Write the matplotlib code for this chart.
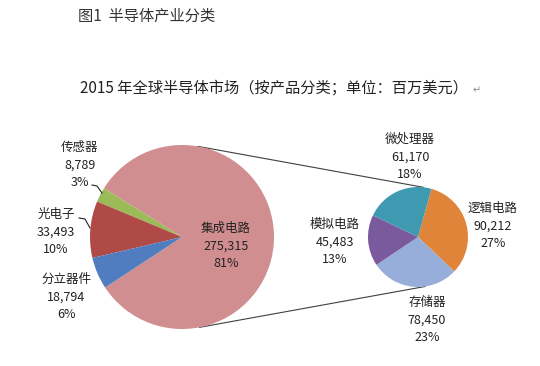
import numpy as np
import matplotlib.pyplot as plt

plt.rcParams['font.family'] = ['Noto Sans CJK SC', 'DejaVu Sans']

# 2015 global semiconductor market, million USD
main_labels = ['集成电路', '传感器', '光电子', '分立器件']
main_values = [275315, 8789, 33493, 18794]
main_pct = ['81%', '3%', '10%', '6%']
main_colors = ['#D08E90', '#9BBB59', '#B04A47', '#4F7DBF']

ic_labels = ['逻辑电路', '存储器', '模拟电路', '微处理器']
ic_values = [90212, 78450, 45483, 61170]
ic_pct = ['27%', '23%', '13%', '18%']
ic_colors = ['#E0843A', '#98AEDA', '#7A5A9C', '#3F99B0']

W, H = 540, 366
fig = plt.figure(figsize=(W / 100, H / 100), dpi=100)
ax = fig.add_axes([0, 0, 1, 1])

# pixel coords, y flipped to go up
c1, r1 = (182, H - 237), 92
c2, r2 = (418, H - 237), 50

start1 = 213.3
ax.pie(main_values, colors=main_colors, startangle=start1, counterclock=True,
       center=c1, radius=r1, wedgeprops=dict(linewidth=0))
ax.pie(ic_values, colors=ic_colors, startangle=74.4, counterclock=False,
       center=c2, radius=r2, wedgeprops=dict(linewidth=0))

# connector lines from the IC slice to the breakdown pie
def on_circle(c, r, deg):
    a = np.deg2rad(deg)
    return c[0] + r * np.cos(a), c[1] + r * np.sin(a)

for a1, a2 in [(80, 84), (-79, -82)]:
    p1 = on_circle(c1, r1, a1)
    p2 = on_circle(c2, r2, a2)
    ax.plot([p1[0], p2[0]], [p1[1], p2[1]], color='#404040', lw=0.8, zorder=0)

ax.set_xlim(0, W)
ax.set_ylim(0, H)
ax.set_aspect('auto')
ax.axis('off')

def fmt(v):
    return f'{v:,}'

lab_kw = dict(ha='center', va='center', fontsize=9, color='#222222', linespacing=1.45)

# labels of big pie
main_pos = [(80, 165), (56, 232), (66, 297), (226, 246)]
main_pos = [main_pos[3]] + main_pos[:3]
for name, v, p, (x, y) in zip(main_labels, main_values, main_pct, main_pos):
    ax.text(x, H - y, f'{name}\n{fmt(v)}\n{p}', **lab_kw)

ic_pos = [(493, 226), (427, 320), (335, 242), (410, 157)]
for name, v, p, (x, y) in zip(ic_labels, ic_values, ic_pct, ic_pos):
    ax.text(x, H - y, f'{name}\n{fmt(v)}\n{p}', **lab_kw)

# leader lines for the small slices
ax.plot([92, 97, 102], [H - 185, H - 186, H - 193], color='#222222', lw=0.8)
ax.plot([79, 85, 90], [H - 218, H - 219, H - 228], color='#222222', lw=0.8)

fig.text(78 / W, 1 - 16 / H, '图1  半导体产业分类', fontsize=11, color='#333333',
         ha='left', va='center')
fig.text(80 / W, 1 - 88 / H, '2015 年全球半导体市场（按产品分类；单位：百万美元）',
         fontsize=11, color='#222222', ha='left', va='center')
fig.text(473 / W, 1 - 90 / H, '↵', fontsize=7, color='#888888', ha='left',
         va='center', family='DejaVu Sans')

fig.savefig('out.png', dpi=100, facecolor='white')
